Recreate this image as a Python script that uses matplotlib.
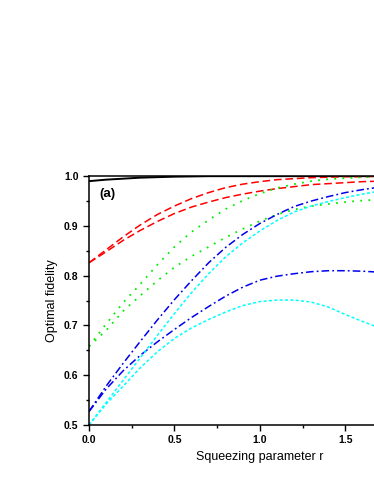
import numpy as np
from matplotlib import pyplot as plt

r = [0.0, 0.1, 0.2, 0.3, 0.4, 0.5, 0.6, 0.7, 0.8, 0.9,
     1.0, 1.1, 1.2, 1.3, 1.4, 1.5, 1.6, 1.7]

black = [0.990, 0.993, 0.995, 0.997, 0.998, 0.999, 0.9995, 1.0, 1.0, 1.0,
         1.0, 1.0, 1.0, 1.0, 1.0, 1.0, 1.0, 1.0]
red_up = [0.826, 0.852, 0.878, 0.902, 0.923, 0.940, 0.955, 0.967, 0.977, 0.984,
          0.989, 0.993, 0.995, 0.997, 0.998, 0.999, 0.999, 1.0]
red_lo = [0.826, 0.848, 0.871, 0.891, 0.909, 0.925, 0.938, 0.948, 0.957, 0.964,
          0.970, 0.975, 0.979, 0.983, 0.985, 0.987, 0.989, 0.990]
green_up = [0.658, 0.703, 0.746, 0.783, 0.822, 0.858, 0.888, 0.912, 0.934, 0.951,
            0.965, 0.976, 0.984, 0.990, 0.994, 0.996, 0.998, 0.999]
green_lo = [0.658, 0.690, 0.729, 0.760, 0.790, 0.817, 0.839, 0.858, 0.877, 0.894,
            0.910, 0.923, 0.933, 0.940, 0.944, 0.948, 0.951, 0.953]
blue_up = [0.527, 0.578, 0.624, 0.668, 0.711, 0.752, 0.790, 0.826, 0.857, 0.883,
           0.905, 0.923, 0.939, 0.950, 0.959, 0.967, 0.973, 0.978]
blue_lo = [0.527, 0.572, 0.609, 0.640, 0.667, 0.692, 0.716, 0.738, 0.759, 0.777,
           0.791, 0.799, 0.804, 0.808, 0.810, 0.810, 0.809, 0.807]
cyan_up = [0.500, 0.545, 0.590, 0.635, 0.680, 0.724, 0.766, 0.804, 0.838, 0.866,
           0.890, 0.911, 0.928, 0.940, 0.949, 0.957, 0.964, 0.970]
cyan_lo = [0.500, 0.542, 0.578, 0.615, 0.647, 0.674, 0.695, 0.712, 0.727, 0.740,
           0.748, 0.751, 0.751, 0.747, 0.737, 0.722, 0.708, 0.695]

plt.rcParams['font.family'] = ['Liberation Sans', 'DejaVu Sans']

fig = plt.figure(figsize=(3.74, 4.84), dpi=100)
ax = fig.add_axes([0.238, 0.122, 0.914, 0.514])

lw = 1.1
ax.plot(r, black, color="black", lw=1.4, ls="-")
ax.plot(r, red_up, color="red", lw=lw, ls=(0, (5, 2.5)))
ax.plot(r, red_lo, color="red", lw=lw, ls=(0, (5, 2.5)))
ax.plot(r, green_up, color="#00ee00", lw=1.3, ls=(0, (1, 3.5)))
ax.plot(r, green_lo, color="#00ee00", lw=1.3, ls=(0, (1, 3.5)))
ax.plot(r, blue_up, color="#0000ee", lw=lw, ls=(0, (5, 2, 1.2, 2)))
ax.plot(r, blue_lo, color="#0000ee", lw=lw, ls=(0, (5, 2, 1.2, 2)))
ax.plot(r, cyan_up, color="cyan", lw=lw, ls=(0, (2, 1.5)))
ax.plot(r, cyan_lo, color="cyan", lw=lw, ls=(0, (2, 1.5)))

# the frame runs past the right edge of the picture, as in the scan
ax.set_xlim(0, 2.0)
ax.set_ylim(0.5, 1.0)
ax.set_xticks([0.0, 0.5, 1.0, 1.5])
ax.set_xticks([0.25, 0.75, 1.25, 1.75], minor=True)
ax.set_yticks([0.5, 0.6, 0.7, 0.8, 0.9, 1.0])
ax.set_yticks([0.55, 0.65, 0.75, 0.85, 0.95], minor=True)
ax.tick_params(which="both", direction="out", width=1.0)
ax.tick_params(which="major", length=4, labelsize=7.5)
ax.tick_params(which="minor", length=2.5)
for lab in ax.get_xticklabels() + ax.get_yticklabels():
    lab.set_fontweight("bold")
for s in ax.spines.values():
    s.set_linewidth(1.1)

ax.set_xlabel("Squeezing parameter r", fontsize=9)
ax.set_ylabel("Optimal fidelity", fontsize=9)
ax.text(0.055, 0.93, "(a)", transform=ax.transAxes, fontsize=9.5,
        fontweight="bold", va="center", ha="center")

fig.savefig("out.png", dpi=100)
